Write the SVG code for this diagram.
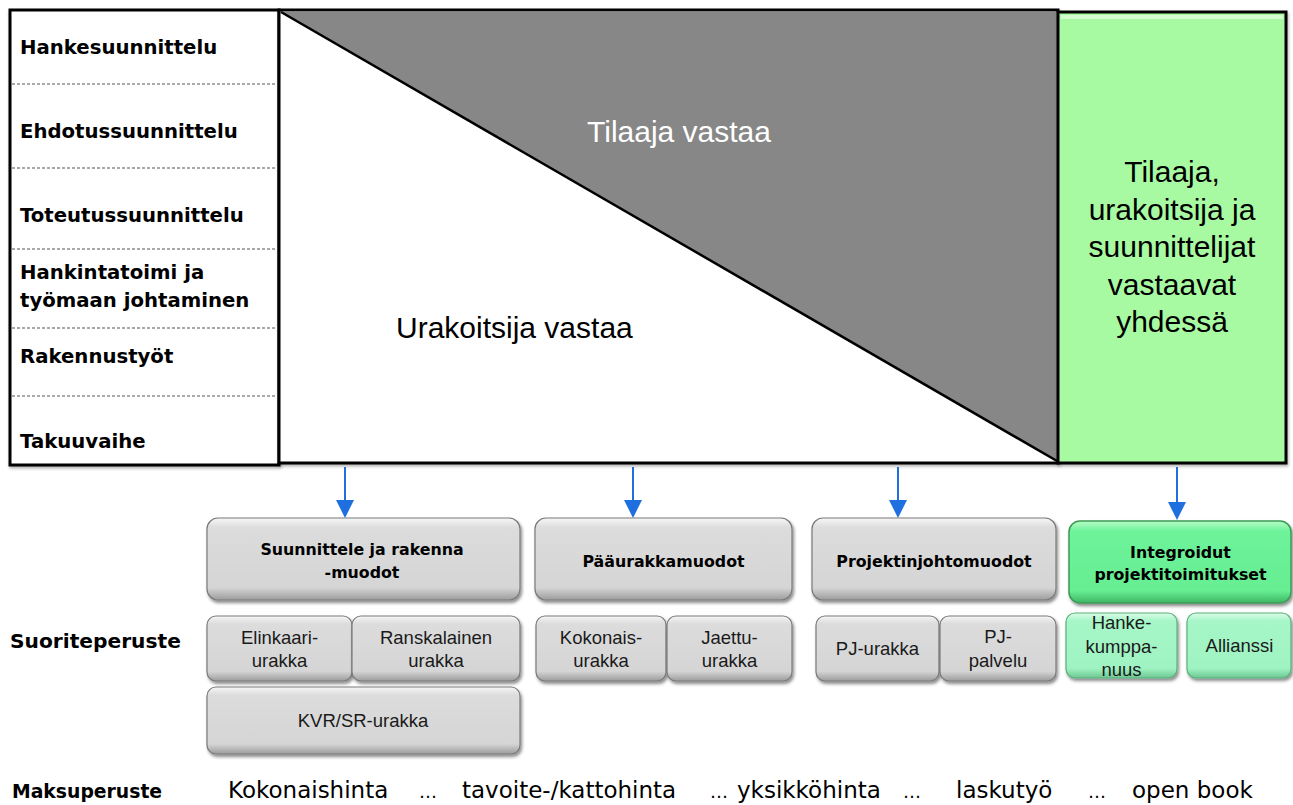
<svg xmlns="http://www.w3.org/2000/svg" width="1293" height="805" viewBox="0 0 1293 805">
<style>
.lbl{font-family:"DejaVu Sans",Verdana,sans-serif;font-weight:bold;font-size:19.7px;fill:#000}
.hdr{font-family:"DejaVu Sans",Verdana,sans-serif;font-weight:bold;font-size:15.8px;fill:#000;text-anchor:middle}
.sub{font-family:"Liberation Sans",Arial,sans-serif;font-size:18.5px;fill:#1a1a1a;text-anchor:middle}
.big{font-family:"Liberation Sans",Arial,sans-serif;font-size:30px}
.pay{font-family:"DejaVu Sans",Verdana,sans-serif;font-size:23px;fill:#000}
.ell{font-family:"DejaVu Sans",Verdana,sans-serif;font-size:18px;fill:#000}
.sep{stroke:#555;stroke-width:1.2;stroke-dasharray:3 2}
.gbox{fill:url(#gg);stroke:#7a7a7a;stroke-width:1.2;filter:url(#sh)}
.g1box{fill:url(#gr1);stroke:#3c9a55;stroke-width:1.5;filter:url(#sh)}
.g2box{fill:url(#gr2);stroke:#5aae7a;stroke-width:1.2;filter:url(#sh)}
.arr{stroke:#1f6fde;stroke-width:2}
</style>
<defs>
<linearGradient id="gg" x1="0" y1="0" x2="0" y2="1">
<stop offset="0" stop-color="#f6f6f6"/><stop offset="0.12" stop-color="#dcdcdc"/><stop offset="0.85" stop-color="#d5d5d5"/><stop offset="1" stop-color="#9c9c9c"/>
</linearGradient>
<linearGradient id="gr1" x1="0" y1="0" x2="0" y2="1">
<stop offset="0" stop-color="#b8fcc8"/><stop offset="0.12" stop-color="#6ef39a"/><stop offset="0.85" stop-color="#66ee93"/><stop offset="1" stop-color="#3fb565"/>
</linearGradient>
<linearGradient id="gr2" x1="0" y1="0" x2="0" y2="1">
<stop offset="0" stop-color="#dcfde9"/><stop offset="0.12" stop-color="#a6f6c8"/><stop offset="0.85" stop-color="#9ff3c2"/><stop offset="1" stop-color="#6cc792"/>
</linearGradient>
<filter id="sh" x="-10%" y="-10%" width="120%" height="130%">
<feDropShadow dx="1.5" dy="2.5" stdDeviation="1.5" flood-color="#000" flood-opacity="0.45"/>
</filter>
<filter id="fsh" x="-5%" y="-5%" width="110%" height="110%">
<feDropShadow dx="1" dy="2" stdDeviation="1.5" flood-color="#000" flood-opacity="0.3"/>
</filter>
</defs>
<rect width="1293" height="805" fill="#fff"/>

<g id="phase-table">
<rect x="10" y="10" width="269" height="455" fill="#fff" stroke="#000" stroke-width="3" filter="url(#fsh)"/>
<line class="sep" x1="12" y1="84" x2="277" y2="84"/>
<line class="sep" x1="12" y1="168" x2="277" y2="168"/>
<line class="sep" x1="12" y1="249" x2="277" y2="249"/>
<line class="sep" x1="12" y1="328" x2="277" y2="328"/>
<line class="sep" x1="12" y1="396" x2="277" y2="396"/>
<text class="lbl" x="20" y="54">Hankesuunnittelu</text>
<text class="lbl" x="20" y="138">Ehdotussuunnittelu</text>
<text class="lbl" x="20" y="222">Toteutussuunnittelu</text>
<text class="lbl" x="20" y="279">Hankintatoimi ja</text>
<text class="lbl" x="20" y="307">työmaan johtaminen</text>
<text class="lbl" x="20" y="363">Rakennustyöt</text>
<text class="lbl" x="20" y="448">Takuuvaihe</text>
</g>

<g id="responsibility">
<rect x="279" y="10" width="779" height="453" fill="#fff" stroke="#000" stroke-width="3" filter="url(#fsh)"/>
<polygon points="281,12 1057,12 1057,461" fill="#878787"/>
<line x1="281" y1="12" x2="1057" y2="461" stroke="#000" stroke-width="2.5"/>
<text class="big" x="679" y="142" fill="#fff" text-anchor="middle">Tilaaja vastaa</text>
<text class="big" x="396" y="338" fill="#000">Urakoitsija vastaa</text>
</g>

<g id="joint">
<rect x="1058" y="12" width="228" height="451" fill="#a7faa2" stroke="#000" stroke-width="3" filter="url(#fsh)"/>
<rect x="1061" y="15" width="222" height="4" fill="#d4fdd0"/>
<text class="big" fill="#000" text-anchor="middle"><tspan x="1172" y="182">Tilaaja,</tspan><tspan x="1172" y="220">urakoitsija ja</tspan><tspan x="1172" y="257">suunnittelijat</tspan><tspan x="1172" y="295">vastaavat</tspan><tspan x="1172" y="332">yhdessä</tspan></text>
</g>

<g id="connectors">
<line class="arr" x1="345" y1="467" x2="345" y2="502"/>
<polygon points="336,500 354,500 345,518" fill="#1f6fde"/>
<line class="arr" x1="633" y1="467" x2="633" y2="502"/>
<polygon points="624,500 642,500 633,518" fill="#1f6fde"/>
<line class="arr" x1="898" y1="467" x2="898" y2="502"/>
<polygon points="889,500 907,500 898,518" fill="#1f6fde"/>
<line class="arr" x1="1177" y1="467" x2="1177" y2="503"/>
<polygon points="1168,502 1186,502 1177,520" fill="#1f6fde"/>
</g>

<g id="suunnittele-rakenna">
<rect class="gbox" x="207" y="518" width="313" height="82" rx="11"/>
<text class="hdr" x="362" y="555">Suunnittele ja rakenna</text>
<text class="hdr" x="362" y="578">-muodot</text>
</g>
<g id="paaurakka">
<rect class="gbox" x="535" y="518" width="257" height="82" rx="11"/>
<text class="hdr" x="663.5" y="567">Pääurakkamuodot</text>
</g>
<g id="projektinjohto">
<rect class="gbox" x="812" y="518" width="244" height="82" rx="11"/>
<text class="hdr" x="934" y="567">Projektinjohtomuodot</text>
</g>
<g id="integroidut">
<rect class="g1box" x="1069" y="521" width="222" height="82" rx="11"/>
<text class="hdr" x="1180.5" y="558">Integroidut</text>
<text class="hdr" x="1180.5" y="580">projektitoimitukset</text>
</g>

<g id="elinkaari">
<rect class="gbox" x="207" y="616" width="145" height="65" rx="9"/>
<text class="sub" x="279.5" y="644">Elinkaari-</text>
<text class="sub" x="279.5" y="667">urakka</text>
</g>
<g id="ranskalainen">
<rect class="gbox" x="352" y="616" width="168" height="65" rx="9"/>
<text class="sub" x="436" y="644">Ranskalainen</text>
<text class="sub" x="436" y="667">urakka</text>
</g>
<g id="kvr">
<rect class="gbox" x="207" y="687" width="313" height="67" rx="9"/>
<text class="sub" x="363" y="727">KVR/SR-urakka</text>
</g>
<g id="kokonais">
<rect class="gbox" x="536" y="616" width="130" height="65" rx="9"/>
<text class="sub" x="601" y="644">Kokonais-</text>
<text class="sub" x="601" y="667">urakka</text>
</g>
<g id="jaettu">
<rect class="gbox" x="667" y="616" width="125" height="65" rx="9"/>
<text class="sub" x="729.5" y="644">Jaettu-</text>
<text class="sub" x="729.5" y="667">urakka</text>
</g>
<g id="pj-urakka">
<rect class="gbox" x="816" y="616" width="123" height="65" rx="9"/>
<text class="sub" x="877.5" y="655">PJ-urakka</text>
</g>
<g id="pj-palvelu">
<rect class="gbox" x="940" y="616" width="116" height="65" rx="9"/>
<text class="sub" x="998" y="643">PJ-</text>
<text class="sub" x="998" y="667">palvelu</text>
</g>
<g id="hankekumppanuus">
<rect class="g2box" x="1066" y="613" width="111" height="65" rx="9"/>
<text class="sub" x="1121.5" y="629">Hanke-</text>
<text class="sub" x="1121.5" y="653">kumppa-</text>
<text class="sub" x="1121.5" y="676">nuus</text>
</g>
<g id="allianssi">
<rect class="g2box" x="1187" y="613" width="104" height="65" rx="9"/>
<text class="sub" x="1239.5" y="652">Allianssi</text>
</g>

<g id="labels">
<text class="lbl" x="10" y="648" style="font-size:20.2px">Suoriteperuste</text>
<text class="lbl" x="12" y="798" style="font-size:18.8px">Maksuperuste</text>
<text class="pay" x="228" y="798">Kokonaishinta</text>
<text class="ell" x="419" y="798">…</text>
<text class="pay" x="462" y="798">tavoite-/kattohinta</text>
<text class="ell" x="710" y="798">…</text>
<text class="pay" x="737" y="798">yksikköhinta</text>
<text class="ell" x="903" y="798">…</text>
<text class="pay" x="956" y="798">laskutyö</text>
<text class="ell" x="1088" y="798">…</text>
<text class="pay" x="1132" y="798">open book</text>
</g>
</svg>
